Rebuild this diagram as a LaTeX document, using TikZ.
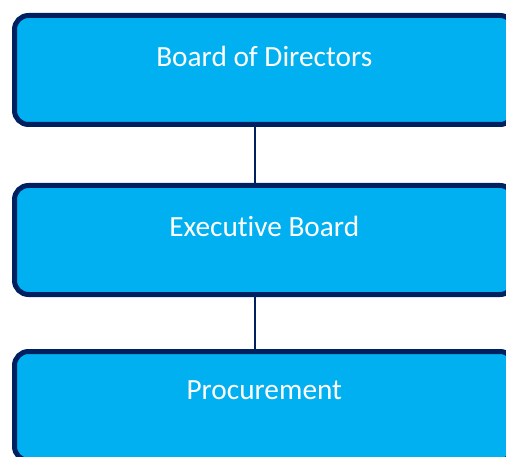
\documentclass[tikz,border=0pt]{standalone}
\usepackage{fontspec}
\setmainfont[Ligatures=NoCommon]{Carlito}
\usetikzlibrary{positioning,calc}
\definecolor{boxblue}{RGB}{0,176,240}
\definecolor{boxnavy}{RGB}{0,32,96}

\tikzset{
    orgbox/.style={draw=boxnavy, fill=boxblue, line width=5pt, rounded corners=14pt,
        minimum width=499.5pt, minimum height=109pt, inner sep=0pt, outer sep=0pt},
    orgtext/.style={text=white, font=\fontsize{29.3}{34}\selectfont, inner sep=0pt},
    orgline/.style={draw=boxnavy, line width=2pt}
}

\begin{document}
\begin{tikzpicture}[x=1pt,y=1pt]
    \useasboundingbox (0,0) rectangle (506,-457);
    \clip (0,0) rectangle (506,-457);

    % Boxes
    \node[orgbox] (board) at (264.25,-70) {};
    \node[orgbox, below=61pt of board] (exec) {};
    \node[orgbox, below=57pt of exec] (proc) {};

    % Labels
    \node[orgtext] (boardtext) at ([yshift=-40.5pt]board.north) {Board of Directors};
    \node[orgtext] (exectext) at ([yshift=-40.5pt]exec.north) {Executive Board};
    \node[orgtext] (proctext) at ([yshift=-38.5pt]proc.north) {Procurement};

    % Connectors
    \draw[orgline] ([xshift=-9pt]board.south) -- ([xshift=-9pt]exec.north);
    \draw[orgline] ([xshift=-9pt]exec.south) -- ([xshift=-9pt]proc.north);
\end{tikzpicture}
\end{document}
